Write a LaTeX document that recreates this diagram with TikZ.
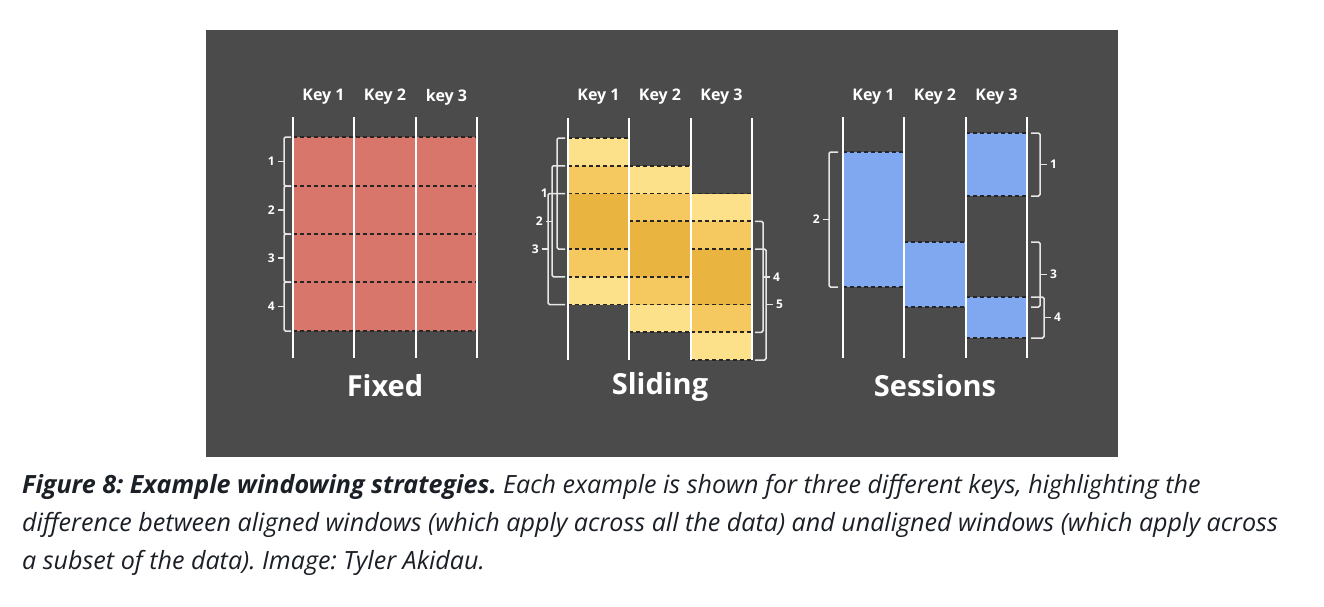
\documentclass[tikz,border=0pt]{standalone}
\usepackage{fontspec}
\setmainfont{Open Sans}
\frenchspacing
\definecolor{panelbg}{HTML}{4B4B4B}
\definecolor{fixedred}{HTML}{D9766B}
\definecolor{yl}{HTML}{FCE08A}
\definecolor{ym}{HTML}{F5C95F}
\definecolor{yd}{HTML}{EAB441}
\definecolor{sessblue}{HTML}{80A8F0}
\definecolor{captxt}{HTML}{1B1F26}
\definecolor{brk}{HTML}{E6E6E6}
\tikzset{
  keyline/.style={draw=white, line width=2.4pt},
  dashline/.style={draw=black!85, line width=1.8pt, dash pattern=on 4pt off 3pt},
  bracket/.style={draw=brk, line width=1.5pt, rounded corners=1.5pt},
  keylabel/.style={text=white, font=\bfseries\fontsize{16}{19}\selectfont, inner sep=0pt},
  numlabel/.style={text=white, font=\bfseries\fontsize{12}{14}\selectfont, inner sep=0pt},
  titlelabel/.style={text=white, font=\bfseries\fontsize{29}{33}\selectfont, inner sep=0pt},
  caption/.style={text=captxt, font=\itshape\fontsize{25.1}{28}\selectfont, anchor=west, inner sep=0pt},
}
% left bracket: spine x, y top, y bottom, foot x, label, label name
\newcommand\mybrL[6]{%
  \draw[bracket] (#4,#2) -- (#1,#2) -- (#1,#3) -- (#4,#3);
  \draw[bracket] (#1,{(#2+#3)/2}) -- ({#1-6},{(#2+#3)/2});
  \node[numlabel, anchor=east] (#6) at ({#1-9},{(#2+#3)/2}) {#5};
}
\newcommand\mybrR[6]{%
  \draw[bracket] (#4,#2) -- (#1,#2) -- (#1,#3) -- (#4,#3);
  \draw[bracket] (#1,{(#2+#3)/2}) -- ({#1+7},{(#2+#3)/2});
  \node[numlabel, anchor=west] (#6) at ({#1+10},{(#2+#3)/2}) {#5};
}
\begin{document}
\begin{tikzpicture}[x=1pt,y=-1pt]
\useasboundingbox (0,0) rectangle (1324,606);
\fill[white] (0,0) rectangle (1324,606);
\fill[panelbg] (206,30) rectangle (1118,457);

% ---------------- Fixed ----------------
\fill[fixedred] (293,137) rectangle (477,331);
\foreach \y in {137,186,234,282,331} \draw[dashline] (293,\y) -- (477,\y);
\foreach \x in {293,354,416,477} \draw[keyline] (\x,117) -- (\x,358);
\node[keylabel] (fk1) at (323.5,97) {Key 1};
\node[keylabel] (fk2) at (385,97) {Key 2};
\node[keylabel] (fk3) at (446.5,97) {key 3};
\mybrL{284}{137}{186}{291}{1}{fn1}
\mybrL{284}{186}{234}{291}{2}{fn2}
\mybrL{284}{234}{282}{291}{3}{fn3}
\mybrL{284}{282}{331}{291}{4}{fn4}
\node[titlelabel] (fixed) at (385,386) {Fixed};

% ---------------- Sliding ----------------
\def\u{27.75}
\foreach \xa/\xb/\o in {568/629/0, 629/691/1, 691/752/2}{
  \fill[yl] (\xa,{138+\u*\o}) rectangle (\xb,{138+\u*(\o+1)});
  \fill[ym] (\xa,{138+\u*(\o+1)}) rectangle (\xb,{138+\u*(\o+2)});
  \fill[yd] (\xa,{138+\u*(\o+2)}) rectangle (\xb,{138+\u*(\o+4)});
  \fill[ym] (\xa,{138+\u*(\o+4)}) rectangle (\xb,{138+\u*(\o+5)});
  \fill[yl] (\xa,{138+\u*(\o+5)}) rectangle (\xb,{138+\u*(\o+6)});
  \foreach \k in {0,1,2,4,5,6}
    \draw[dashline] (\xa,{138+\u*(\o+\k)}) -- (\xb,{138+\u*(\o+\k)});
}
\foreach \x in {568,629,691,752} \draw[keyline] (\x,118) -- (\x,360);
\node[keylabel] (sk1) at (598.5,97) {Key 1};
\node[keylabel] (sk2) at (660,97) {Key 2};
\node[keylabel] (sk3) at (721.5,97) {Key 3};
\mybrL{557}{138}{249}{565}{1}{sn1}
\mybrL{552}{165.75}{276.75}{565}{2}{sn2}
\mybrL{548}{193.5}{304.5}{565}{3}{sn3}
\mybrR{763}{221.25}{332.25}{755}{4}{sn4}
\mybrR{766}{249}{360}{755}{5}{sn5}
\node[titlelabel] (sliding) at (660,387) {Sliding};

% ---------------- Sessions ----------------
\fill[sessblue] (843,152) rectangle (904,287);
\fill[sessblue] (904,242) rectangle (966,307);
\fill[sessblue] (966,133) rectangle (1027,196);
\fill[sessblue] (966,297) rectangle (1027,338);
\foreach \xa/\xb/\y in {843/904/152, 843/904/287, 904/966/242, 904/966/307,
                        966/1027/133, 966/1027/196, 966/1027/297, 966/1027/338}
  \draw[dashline] (\xa,\y) -- (\xb,\y);
\foreach \x in {843,904,966,1027} \draw[keyline] (\x,117) -- (\x,358);
\node[keylabel] (ek1) at (873.5,97) {Key 1};
\node[keylabel] (ek2) at (935,97) {Key 2};
\node[keylabel] (ek3) at (996.5,97) {Key 3};
\mybrL{829}{152}{287}{838}{2}{en2}
\mybrR{1040}{133}{196}{1031}{1}{en1}
\mybrR{1040}{242}{307}{1031}{3}{en3}
\mybrR{1044}{297}{338}{1031}{4}{en4}
\node[titlelabel] (sessions) at (935,386) {Sessions};

% ---------------- Caption ----------------
\node[caption] (cap1) at (22,487) {\textbf{Figure 8: Example windowing strategies.} Each example is shown for three different keys, highlighting the};
\node[caption] (cap2) at (22,525) {difference between aligned windows (which apply across all the data) and unaligned windows (which apply across};
\node[caption] (cap3) at (22,563) {a subset of the data). Image: Tyler Akidau.};
\end{tikzpicture}
\end{document}
